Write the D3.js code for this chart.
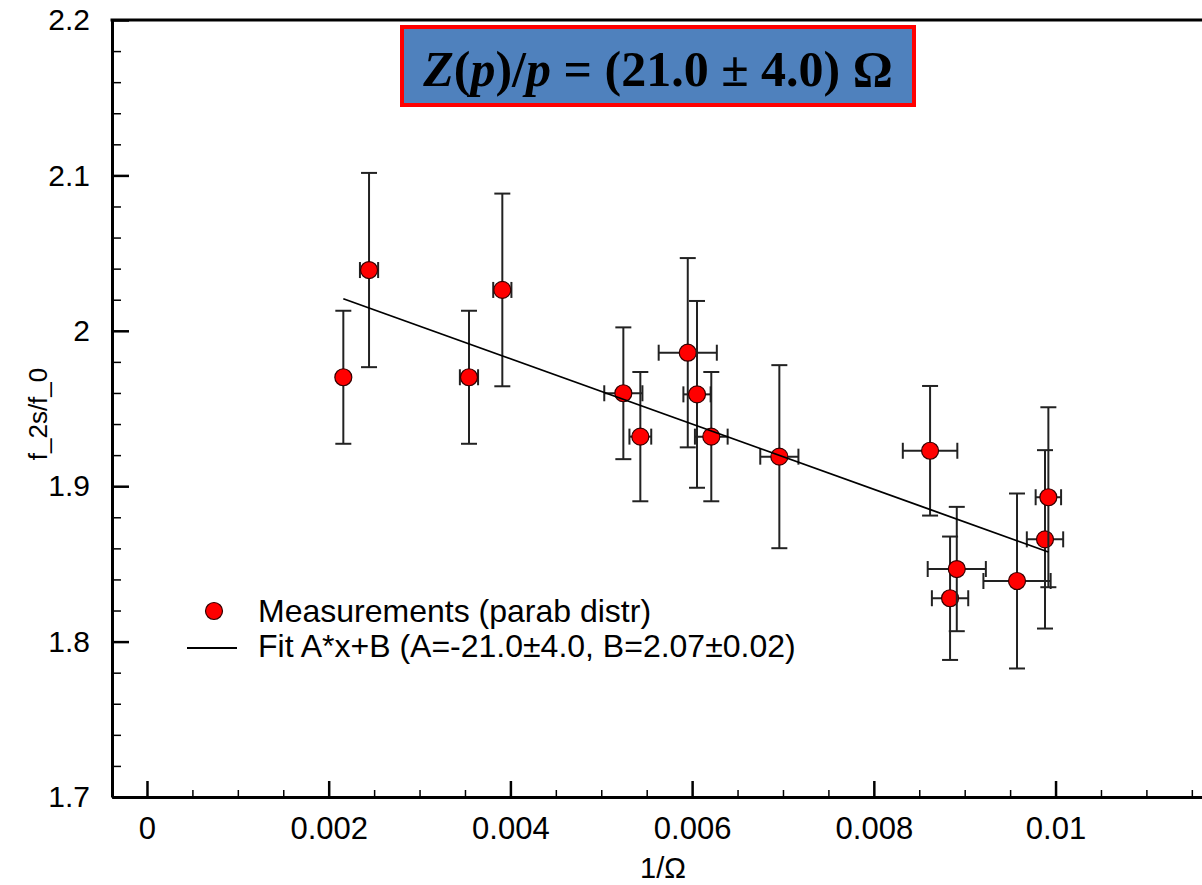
<!DOCTYPE html>
<html>
<head>
<meta charset="utf-8">
<script src="https://cdn.jsdelivr.net/npm/d3@7"></script>
<style>
  html, body { margin: 0; padding: 0; background: #fff; }
  svg { display: block; }
</style>
</head>
<body>
<svg id="chart"></svg>
<script>
// measurements (x = 1/Omega, y = f_2s/f_0)
const xVals = [0.002161, 0.002444, 0.003544, 0.003911, 0.005243, 0.005430, 0.005952, 0.006054,
               0.006211, 0.006960, 0.008619, 0.008839, 0.008913, 0.009576, 0.009884, 0.009921];
const yVals = [1.9701, 2.0391, 1.9701, 2.0263, 1.9598, 1.9319, 1.9859, 1.9591,
               1.9319, 1.9190, 1.9228, 1.8279, 1.8467, 1.8390, 1.8658, 1.8929];
const xErrs = [0, 0.0001, 0.0001, 0.0001, 0.00021, 0.00012, 0.00032, 0.00015,
               0.00018, 0.00021, 0.00030, 0.00020, 0.00032, 0.00037, 0.00020, 0.00014];
const yErrs = [0.0428, 0.0625, 0.0428, 0.0620, 0.0424, 0.0416, 0.0609, 0.0601,
               0.0416, 0.0589, 0.0417, 0.0397, 0.0400, 0.0563, 0.0574, 0.0579];

// fit y = A*x + B
const fitA = -21.0;
const fitB = 2.066;

const xTicks = [0, 0.002, 0.004, 0.006, 0.008, 0.01];
const yTicks = [1.7, 1.8, 1.9, 2.0, 2.1, 2.2];
const xDomain = [-0.000385, 0.0117];
const yDomain = [1.7, 2.2];

const legendLabels = ['Measurements (parab distr)', 'Fit A*x+B (A=-21.0\u00b14.0, B=2.07\u00b10.02)'];
const xTitle = '1/\u03a9';
const yTitle = 'f_2s/f_0';

const width = 1202, height = 885;
const margin = {left: 112, top: 20, bottom: 797, right: 1210};

const svg = d3.select('#chart')
    .attr('width', width)
    .attr('height', height)
    .style('font-family', '"Liberation Sans", Arial, sans-serif');

const x = d3.scaleLinear().domain(xDomain).range([margin.left, margin.right]);
const y = d3.scaleLinear().domain(yDomain).range([margin.bottom, margin.top]);

const points = xVals.map((v, i) => ({x: v, y: yVals[i], ex: xErrs[i], ey: yErrs[i]}));

// minor ticks
const xMinor = d3.range(0, 0.0116, 0.0005).filter(v => !xTicks.some(t => Math.abs(t - v) < 1e-9));
const yMinor = d3.range(1.7, 2.2, 0.02).filter(v => !yTicks.some(t => Math.abs(t - v) < 1e-9));

svg.append('g')
    .attr('transform', `translate(0,${margin.bottom})`)
    .call(d3.axisBottom(x).tickValues(xMinor).tickSize(-7).tickSizeOuter(0).tickFormat(''))
    .call(g => g.select('.domain').remove())
    .call(g => g.selectAll('line').attr('stroke', '#000').attr('stroke-width', 1.5));

svg.append('g')
    .attr('transform', `translate(${margin.left},0)`)
    .call(d3.axisLeft(y).tickValues(yMinor).tickSize(-9).tickSizeOuter(0).tickFormat(''))
    .call(g => g.select('.domain').remove())
    .call(g => g.selectAll('line').attr('stroke', '#000').attr('stroke-width', 1.5));

// major axes
const xAxis = svg.append('g')
    .attr('transform', `translate(0,${margin.bottom})`)
    .call(d3.axisBottom(x).tickValues(xTicks).tickSize(-16).tickSizeOuter(0).tickPadding(20)
        .tickFormat(d => String(+d.toFixed(3))));
xAxis.attr('font-family', null).attr('font-size', null);
xAxis.select('.domain').attr('stroke', '#000').attr('stroke-width', 3);
xAxis.selectAll('line').attr('stroke', '#000').attr('stroke-width', 2.5);
xAxis.selectAll('text').attr('font-size', 31).attr('fill', '#000');

const yAxis = svg.append('g')
    .attr('transform', `translate(${margin.left},0)`)
    .call(d3.axisLeft(y).tickValues(yTicks).tickSize(-17).tickSizeOuter(0).tickPadding(22)
        .tickFormat(d => String(+d.toFixed(1))));
yAxis.attr('font-family', null).attr('font-size', null);
yAxis.select('.domain').attr('stroke', '#000').attr('stroke-width', 3);
yAxis.selectAll('line').attr('stroke', '#000').attr('stroke-width', 2.5);
yAxis.selectAll('text').attr('font-size', 30).attr('fill', '#000');

// top frame
svg.append('line')
    .attr('x1', margin.left - 1.5).attr('x2', margin.right)
    .attr('y1', margin.top).attr('y2', margin.top)
    .attr('stroke', '#000').attr('stroke-width', 3);

// axis titles
svg.append('text')
    .attr('x', 663).attr('y', 878)
    .attr('text-anchor', 'middle')
    .attr('font-size', 29)
    .text(xTitle);

svg.append('text')
    .attr('transform', 'translate(47,414) rotate(-90)')
    .attr('text-anchor', 'middle')
    .attr('font-size', 26)
    .text(yTitle);

// data with error bars
const cap = 8;
const pg = svg.append('g').selectAll('g')
    .data(points)
    .join('g')
    .attr('stroke', '#222')
    .attr('stroke-width', 2);

pg.append('line')
    .attr('x1', d => x(d.x)).attr('x2', d => x(d.x))
    .attr('y1', d => y(d.y + d.ey)).attr('y2', d => y(d.y - d.ey));
pg.append('line')
    .attr('x1', d => x(d.x) - cap).attr('x2', d => x(d.x) + cap)
    .attr('y1', d => y(d.y + d.ey)).attr('y2', d => y(d.y + d.ey));
pg.append('line')
    .attr('x1', d => x(d.x) - cap).attr('x2', d => x(d.x) + cap)
    .attr('y1', d => y(d.y - d.ey)).attr('y2', d => y(d.y - d.ey));

const withX = pg.filter(d => d.ex > 0);
withX.append('line')
    .attr('x1', d => x(d.x - d.ex)).attr('x2', d => x(d.x + d.ex))
    .attr('y1', d => y(d.y)).attr('y2', d => y(d.y));
withX.append('line')
    .attr('x1', d => x(d.x - d.ex)).attr('x2', d => x(d.x - d.ex))
    .attr('y1', d => y(d.y) - cap).attr('y2', d => y(d.y) + cap);
withX.append('line')
    .attr('x1', d => x(d.x + d.ex)).attr('x2', d => x(d.x + d.ex))
    .attr('y1', d => y(d.y) - cap).attr('y2', d => y(d.y) + cap);

pg.append('circle')
    .attr('cx', d => x(d.x)).attr('cy', d => y(d.y))
    .attr('r', 8.5)
    .attr('fill', '#ff0000')
    .attr('stroke', '#300')
    .attr('stroke-width', 1.2);

// fit line across the data range
const [x0, x1] = d3.extent(xVals);
svg.append('path')
    .datum([x0, x1])
    .attr('fill', 'none')
    .attr('stroke', '#000')
    .attr('stroke-width', 1.8)
    .attr('d', d3.line().x(d => x(d)).y(d => y(fitA * d + fitB)));

// legend
const legend = svg.append('g').attr('font-size', 32);
legend.append('circle')
    .attr('cx', 214).attr('cy', 611).attr('r', 8.5)
    .attr('fill', '#ff0000').attr('stroke', '#300').attr('stroke-width', 1.2);
legend.append('line')
    .attr('x1', 187).attr('x2', 237).attr('y1', 648).attr('y2', 648)
    .attr('stroke', '#000').attr('stroke-width', 1.8);
legend.selectAll('text')
    .data(legendLabels)
    .join('text')
    .attr('x', 258)
    .attr('y', (d, i) => 622 + i * 35)
    .text(d => d);

// title box
const box = svg.append('g');
box.append('rect')
    .attr('x', 402).attr('y', 27).attr('width', 512).attr('height', 78)
    .attr('fill', '#4f81bd')
    .attr('stroke', '#ff0000')
    .attr('stroke-width', 4);
const title = box.append('text')
    .attr('x', 658).attr('y', 86)
    .attr('text-anchor', 'middle')
    .attr('font-family', '"Liberation Serif", "DejaVu Serif", serif')
    .attr('font-weight', 'bold')
    .attr('font-size', 50)
    .attr('fill', '#000');
[['Z', true], ['(', false], ['p', true], [')/', false], ['p', true],
 [' = (21.0 \u00b1 4.0) \u03a9', false]].forEach(([t, it]) => {
    title.append('tspan').attr('font-style', it ? 'italic' : 'normal').text(t);
});
// shrink to the width the title takes in the box
const tw = title.node().getComputedTextLength();
if (tw > 472) title.attr('font-size', 50 * 472 / tw);
</script>
</body>
</html>
